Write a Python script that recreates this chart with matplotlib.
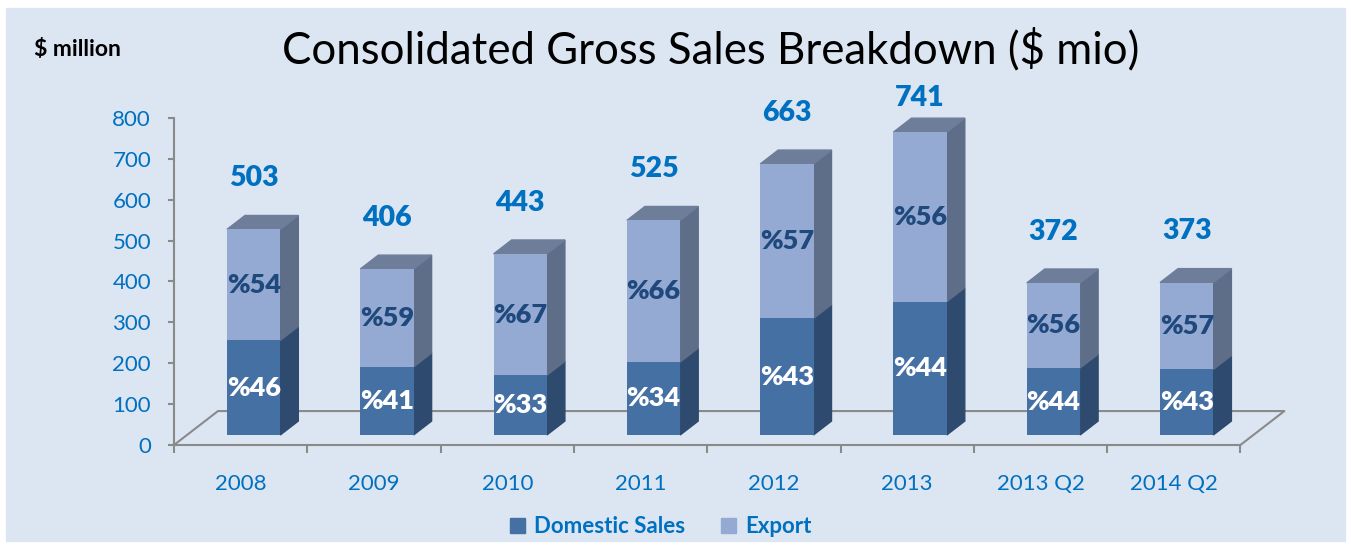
import numpy as np
import matplotlib
matplotlib.use("Agg")
import matplotlib.pyplot as plt
from matplotlib.patches import Polygon, Patch, Rectangle

# data
periods = ["2008", "2009", "2010", "2011", "2012", "2013", "2013 Q2", "2014 Q2"]
totals = np.array([503, 406, 443, 525, 663, 741, 372, 373])
domestic_pct = np.array([46, 41, 33, 34, 43, 44, 44, 43])
export_pct = np.array([54, 59, 67, 66, 57, 56, 56, 57])

domestic = totals * domestic_pct / 100
export = totals * export_pct / 100

plt.rcParams['font.family'] = ['Lato', 'DejaVu Sans']

bg = "#DCE6F2"
blue_txt = "#0070C0"
navy_txt = "#1F497D"
gray = "#8A8A8A"
dom_front, dom_side = "#4570A4", "#2E4A6F"
exp_front, exp_side, exp_top = "#95AAD2", "#5E6E89", "#6E7E9A"

fig = plt.figure(figsize=(13.51, 5.47), dpi=100, facecolor="white")
fig.patches.append(Rectangle((6 / 1351, 6 / 547), 1339 / 1351, 533 / 547,
                             transform=fig.transFigure, color=bg, zorder=-5))

ax = fig.add_axes([0.1288, 0.1865, 0.8288, 0.6576])
ax.set_xlim(-0.5, 7.9)
ax.set_ylim(0, 880)
ax.patch.set_visible(False)

# fake 3d geometry (in data units)
floor_dx, floor_dy = 0.33, 83
off_x, off_y = 0.0975, 24.5     # front face of the bars sits a bit back
deep_x, deep_y = 0.135, 34      # bar depth
w = 0.4

x = np.arange(len(periods))
fx = x + off_x
n = len(periods)

# floor outline
ax.plot([-0.5, -0.5 + floor_dx, n - 0.5 + floor_dx, n - 0.5],
        [0, floor_dy, floor_dy, 0], color=gray, lw=1.5, zorder=1,
        clip_on=False)

# stacked bars with side and top faces
stacks = [(np.zeros(n), domestic, dom_front, dom_side),
          (domestic, export, exp_front, exp_side)]
for bottom, height, front, side in stacks:
    ax.bar(fx, height, w, bottom=off_y + bottom, color=front, zorder=3)
    for i in range(n):
        xr = fx[i] + w / 2
        y0 = off_y + bottom[i]
        y1 = y0 + height[i]
        ax.add_patch(Polygon([(xr, y0), (xr + deep_x, y0 + deep_y),
                              (xr + deep_x, y1 + deep_y), (xr, y1)],
                             closed=True, color=side, zorder=2))
for i in range(n):
    top = off_y + totals[i]
    xl, xr = fx[i] - w / 2, fx[i] + w / 2
    ax.add_patch(Polygon([(xl, top), (xr, top), (xr + deep_x, top + deep_y),
                          (xl + deep_x, top + deep_y)],
                         closed=True, color=exp_top, zorder=2))

# labels (totals kept below the title)
label_y = np.minimum(totals + 150, 850)
for i in range(n):
    ax.text(fx[i], off_y + domestic[i] / 2, "%" + str(domestic_pct[i]),
            ha="center", va="center", color="white", fontsize=19.5,
            fontweight="heavy", zorder=5)
    ax.text(fx[i], off_y + domestic[i] + export[i] / 2, "%" + str(export_pct[i]),
            ha="center", va="center", color=navy_txt, fontsize=19.5,
            fontweight="heavy", zorder=5)
    ax.text(fx[i], label_y[i], str(totals[i]), ha="center", va="center",
            color=blue_txt, fontsize=20.5, fontweight="heavy", zorder=5,
            clip_on=False)

# axes styling
for s in ["top", "right"]:
    ax.spines[s].set_visible(False)
ax.spines["left"].set_bounds(0, 800)
ax.spines["bottom"].set_bounds(-0.5, n - 0.5)
for s in ["left", "bottom"]:
    ax.spines[s].set_color(gray)
    ax.spines[s].set_linewidth(1.5)

ax.set_yticks(range(0, 801, 100))
ax.tick_params(axis="y", colors=gray, labelcolor=blue_txt, labelsize=16,
               length=4.5, width=1.5, pad=12)
ax.set_xticks(x, periods)
ax.set_xticks(np.arange(-0.5, n, 1), minor=True)
ax.tick_params(axis="x", which="major", length=0, labelsize=16,
               labelcolor=blue_txt, pad=21)
ax.tick_params(axis="x", which="minor", length=6, width=1.5, colors=gray)

fig.text(0.526, 0.9086, "Consolidated Gross Sales Breakdown ($ mio)",
         ha="center", va="center", fontsize=31.5, color="black")
fig.text(0.025, 0.9086, "$ million", ha="left", va="center", fontsize=16.5,
         fontweight="bold", color="black")

handles = [Patch(color=dom_front, label="Domestic Sales"),
           Patch(color=exp_front, label="Export")]
leg = fig.legend(handles=handles, loc="center", bbox_to_anchor=(0.489, 0.037),
                 ncol=2, frameon=False, handlelength=0.7, handleheight=0.7,
                 handletextpad=0.4, columnspacing=1.6,
                 prop={"size": 16, "weight": "bold"})
for t in leg.get_texts():
    t.set_color(blue_txt)

fig.savefig("out.png", dpi=100, facecolor="white")
